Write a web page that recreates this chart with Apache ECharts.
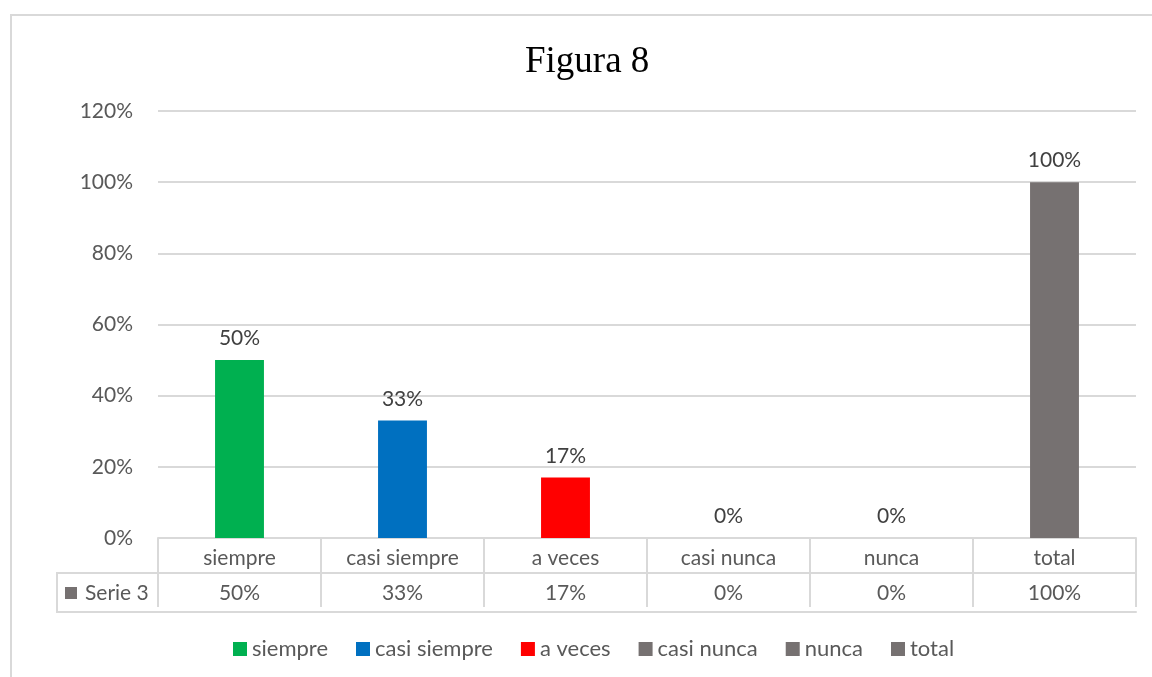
<!DOCTYPE html>
<html>
<head>
<meta charset="utf-8">
<title>Figura 8</title>
<script src="https://cdn.jsdelivr.net/npm/echarts@6/dist/echarts.min.js"></script>
<style>
  html, body { margin: 0; padding: 0; background: #fff; }
  #chart { width: 1152px; height: 677px; }
</style>
</head>
<body>
<div id="chart"></div>
<script>
const categories = ['siempre', 'casi siempre', 'a veces', 'casi nunca', 'nunca', 'total']
const percents = [50, 33, 17, 0, 0, 100]
const barColors = ['#00B050', '#0070C0', '#FF0000', '#767171', '#767171', '#767171']
const yTicks = [0, 20, 40, 60, 80, 100, 120]
const seriesName = 'Serie 3'

const FONT = 'Lato, "Noto Sans", sans-serif'
const FS = 21
const GRID_LEFT = 158
const GRID_RIGHT = 16
const GRID_BOTTOM = 139
const LINE = '#d9d9d9'

const myChart = echarts.init(document.getElementById('chart'))

// one series per category so the legend gets one entry per bar
const series = categories.map((name, i) => ({
  name: name,
  type: 'bar',
  stack: 'one',
  barWidth: '30%',
  xAxisIndex: 0,
  itemStyle: { color: barColors[i] },
  label: {
    show: true,
    position: 'top',
    distance: 11,
    color: '#404040',
    fontSize: FS,
    fontFamily: FONT,
    formatter: (p) => p.value + '%'
  },
  data: percents.map((v, j) => (j === i ? v : null))
}))

const tableBottom = 677 - GRID_BOTTOM + 74
const rowSplit = 677 - GRID_BOTTOM + 35

let option = {
  animation: false,
  title: {
    text: 'Figura 8',
    left: 520,
    top: 39,
    textStyle: {
      fontFamily: '"Liberation Serif", "DejaVu Serif", serif',
      fontWeight: 'normal',
      fontSize: 37,
      color: '#000'
    }
  },
  legend: {
    bottom: 12,
    left: 228,
    icon: 'rect',
    itemWidth: 14,
    itemHeight: 14,
    itemGap: 28,
    textStyle: { color: '#595959', fontSize: 22, fontFamily: FONT },
    data: categories
  },
  grid: {
    left: GRID_LEFT,
    right: GRID_RIGHT,
    top: 111,
    bottom: GRID_BOTTOM
  },
  xAxis: [
    {
      // category row of the table
      type: 'category',
      data: categories,
      position: 'bottom',
      offset: 5,
      axisLine: { show: true, lineStyle: { color: LINE, width: 2 } },
      axisTick: { show: true, length: 69, lineStyle: { color: LINE, width: 2 } },
      axisLabel: { margin: 5, color: '#595959', fontSize: FS, fontFamily: FONT, interval: 0 }
    },
    {
      // value row of the table
      type: 'category',
      data: categories,
      position: 'bottom',
      offset: 35,
      axisLine: { show: true, lineStyle: { color: LINE, width: 2 } },
      axisTick: { show: false },
      axisLabel: {
        margin: 10,
        color: '#595959',
        fontSize: FS,
        fontFamily: FONT,
        interval: 0,
        formatter: (v, idx) => percents[idx] + '%'
      }
    },
    {
      type: 'category',
      data: categories,
      position: 'bottom',
      offset: 74,
      axisLine: { show: true, lineStyle: { color: LINE, width: 2 } },
      axisTick: { show: false },
      axisLabel: { show: false }
    }
  ],
  yAxis: {
    type: 'value',
    min: yTicks[0],
    max: yTicks[yTicks.length - 1],
    interval: 20,
    axisLine: { show: false },
    axisTick: { show: false },
    axisLabel: { margin: 25, color: '#595959', fontSize: FS, fontFamily: FONT, formatter: '{value}%' },
    splitLine: { lineStyle: { color: LINE, width: 2 } }
  },
  graphic: [
    {
      type: 'rect',
      shape: { x: 11, y: 15, width: 1200, height: 720 },
      style: { fill: null, stroke: LINE, lineWidth: 2 },
      silent: true,
      z: -1
    },
    // series cell on the left of the table
    {
      type: 'polyline',
      shape: { points: [[GRID_LEFT, rowSplit], [57, rowSplit], [57, tableBottom], [GRID_LEFT, tableBottom]] },
      style: { fill: null, stroke: LINE, lineWidth: 2 },
      silent: true
    },
    {
      type: 'rect',
      shape: { x: 65, y: rowSplit + 14, width: 12, height: 12 },
      style: { fill: '#767171' },
      silent: true
    },
    {
      type: 'text',
      x: 85,
      y: rowSplit + 20,
      style: { text: seriesName, fill: '#595959', font: FS + 'px ' + FONT, verticalAlign: 'middle' },
      silent: true
    }
  ],
  series: series
}
option && myChart.setOption(option)
</script>
</body>
</html>
